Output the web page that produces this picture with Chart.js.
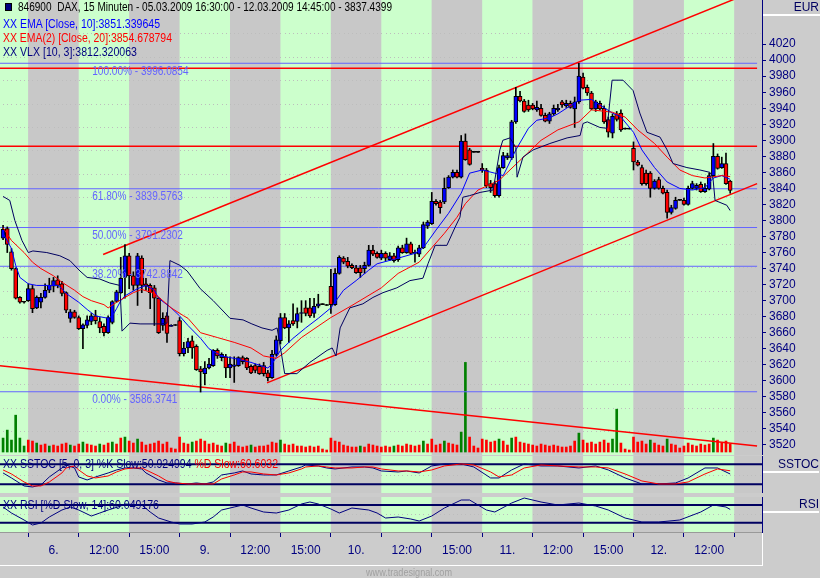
<!DOCTYPE html>
<html><head><meta charset="utf-8">
<script src="https://cdn.jsdelivr.net/npm/chart.js@4.4.0/dist/chart.umd.min.js"></script>
<style>
html,body{margin:0;padding:0;background:#cccccc;width:820px;height:578px;overflow:hidden;}
#wrap{position:relative;width:820px;height:578px;font-family:"Liberation Sans",Arial,sans-serif;}
canvas{position:absolute;left:0;}
.t{position:absolute;white-space:nowrap;font-size:12px;line-height:14px;transform-origin:0 0;}
.box{position:absolute;left:763px;width:56px;border-bottom:2px solid #fff;color:#000060;text-align:right;font-family:"Liberation Sans",Arial,sans-serif;font-size:12px;line-height:14px;}
</style></head><body>
<div id="wrap">
<canvas id="main" width="820" height="455" style="top:0"></canvas>
<canvas id="stoch" width="820" height="37" style="top:456px"></canvas>
<canvas id="rsi" width="820" height="69" style="top:497px"></canvas>
<div style="position:absolute;left:5px;top:3px;width:5px;height:6px;background:#000080;border:1px solid #000;"></div>
<div class="t" data-w="374" style="left:18px;top:0px;color:#000000">846900&nbsp; DAX, 15 Minuten - 05.03.2009 16:30:00 - 12.03.2009 14:45:00 - 3837.4399</div>
<div class="t" data-w="157" style="left:3px;top:17px;color:#0000ff">XX EMA [Close, 10]:3851.339645</div>
<div class="t" data-w="169" style="left:3px;top:31px;color:#ff0000">XX EMA(2) [Close, 20]:3854.678794</div>
<div class="t" data-w="134" style="left:3px;top:45px;color:#000080">XX VLX [10, 3]:3812.320063</div>
<div class="t" data-w="275" style="left:3px;top:457px;color:#000080">XX SSTOC [5, 0, 3] %K Slow:50.924994 <span style="color:#ff0000">%D Slow:60.6032</span></div>
<div class="t" data-w="156" style="left:3px;top:498px;color:#000080">XX RSI [%D Slow, 14]:60.049176</div>
<div class="box" style="top:0px;height:14px;padding-right:1px">EUR</div>
<div class="box" style="top:457px;height:14px;">SSTOC</div>
<div class="box" style="top:497px;height:14px;">RSI</div>
<div style="position:absolute;left:0;top:565px;width:763px;height:1px;background:#fff"></div>
<div style="position:absolute;left:762px;top:533px;width:1px;height:33px;background:#fff"></div>
<div class="t" data-w="86" style="left:366px;top:565px;color:#a0a0a0;font-size:11px;">www.tradesignal.com</div>
</div>
<script>
// ---------------- DATA ----------------
// bars are placed on 15-minute slots; slot 0 = 06.03.2009 09:00, 36 slots per trading day
const firstSlot = -6; // 05.03.2009 16:30
const open = [3778,3790,3761,3740,3704,3698,
 3700,3715,3691,3698,3704,3713,3718,3726,3721,3710,3678,3686,3679,3665,3669,3674,3681,3674,3668,3660,3673,3699,3710,3729,3756,3731,3719,3753,3721,3719,3716,3703,3669,3681,3668,3669,
 3675,3634,3641,3650,3643,3615,3609,3616,3619,3638,3629,3630,3616,3618,3619,3629,3628,3618,3619,3618,3619,3610,3604,3633,3650,3679,3666,3675,3674,3684,3691,3691,3684,3693,3695,3694,
 3718,3695,3734,3753,3749,3744,3741,3741,3740,3744,3763,3759,3753,3759,3751,3756,3751,3766,3760,3771,3759,3758,3766,3793,3796,3824,3823,3823,3841,3854,3860,3854,3899,3888,3885,3885,
 3865,3863,3846,3846,3831,3866,3878,3878,3923,3955,3949,3944,3944,3938,3940,3931,3924,3933,3938,3948,3943,3946,3939,3948,3979,3966,3959,3939,3946,3940,3926,3909,3933,3934,3914,3914,
 3890,3873,3866,3859,3859,3840,3851,3840,3835,3810,3815,3825,3825,3820,3840,3840,3845,3836,3839,3856,3880,3866,3871,3849];
const high = [3794,3792,3765,3741,3705,3699,
 3721,3719,3706,3709,3721,3728,3729,3731,3724,3711,3689,3688,3681,3671,3681,3684,3688,3679,3671,3681,3700,3713,3754,3770,3759,3736,3759,3756,3728,3721,3719,3704,3685,3685,3670,3669,
 3679,3648,3653,3656,3645,3618,3624,3628,3639,3640,3635,3633,3630,3630,3630,3631,3629,3620,3621,3621,3623,3613,3638,3656,3684,3684,3675,3696,3691,3700,3700,3703,3703,3708,3695,3694,
 3739,3740,3756,3755,3754,3746,3744,3744,3748,3769,3769,3761,3763,3761,3760,3759,3768,3769,3778,3773,3763,3769,3798,3800,3835,3826,3825,3853,3856,3863,3863,3906,3908,3890,3885,3885,
 3871,3865,3850,3849,3869,3885,3884,3925,3966,3961,3951,3950,3946,3949,3945,3934,3935,3944,3945,3950,3950,3949,3954,3996,3984,3969,3961,3950,3949,3943,3929,3933,3936,3938,3914,3914,
 3898,3875,3869,3863,3861,3851,3854,3843,3838,3819,3829,3825,3828,3843,3849,3846,3848,3846,3859,3896,3883,3879,3884,3850];
const low = [3776,3760,3738,3702,3697,3697,
 3699,3685,3690,3691,3703,3710,3711,3716,3706,3685,3673,3678,3664,3640,3666,3670,3671,3660,3656,3659,3671,3698,3709,3703,3715,3713,3694,3710,3713,3690,3669,3659,3663,3648,3668,3669,
 3631,3631,3635,3628,3613,3586,3595,3615,3618,3628,3625,3604,3604,3598,3618,3621,3614,3609,3610,3608,3606,3600,3603,3631,3646,3665,3648,3669,3666,3673,3681,3679,3679,3691,3695,3694,
 3684,3694,3733,3746,3741,3740,3734,3729,3734,3743,3756,3753,3751,3750,3750,3748,3749,3759,3759,3758,3748,3755,3765,3790,3795,3819,3809,3821,3840,3853,3853,3853,3875,3869,3885,3885,
 3860,3841,3835,3829,3829,3865,3876,3876,3921,3948,3935,3936,3938,3936,3930,3923,3921,3931,3936,3941,3941,3940,3916,3946,3964,3956,3938,3936,3938,3921,3904,3903,3924,3911,3914,3914,
 3863,3868,3844,3844,3829,3839,3839,3833,3803,3808,3814,3825,3819,3819,3839,3838,3835,3835,3838,3855,3864,3865,3845,3834];
const close = [3789,3770,3740,3703,3698,3698,
 3715,3690,3704,3704,3713,3719,3725,3719,3709,3688,3686,3679,3665,3670,3676,3681,3675,3666,3660,3679,3699,3711,3728,3756,3731,3719,3756,3719,3718,3710,3703,3660,3678,3659,3669,3669,
 3634,3641,3649,3641,3614,3611,3616,3621,3638,3631,3633,3616,3621,3620,3629,3624,3616,3610,3613,3609,3609,3604,3633,3651,3679,3666,3671,3671,3684,3685,3684,3681,3693,3696,3695,3694,
 3695,3734,3754,3748,3743,3741,3735,3735,3744,3763,3758,3754,3759,3753,3756,3750,3766,3760,3771,3759,3760,3766,3795,3798,3824,3821,3816,3840,3854,3860,3854,3899,3876,3870,3885,3885,
 3863,3843,3841,3831,3866,3881,3881,3923,3955,3949,3936,3938,3939,3941,3931,3924,3933,3940,3940,3944,3946,3941,3948,3980,3965,3959,3939,3948,3939,3923,3910,3930,3926,3913,3914,3914,
 3873,3869,3846,3846,3840,3849,3840,3834,3810,3816,3825,3825,3820,3840,3846,3844,3836,3840,3856,3880,3865,3871,3846,3837.4399];
const volume = [140,220,120,370,140,60,
 120,110,90,70,80,60,70,60,80,90,70,60,80,100,80,70,60,80,70,90,100,80,140,150,110,90,130,100,70,80,90,110,80,100,40,30,
 150,90,80,100,110,130,110,80,90,70,60,90,80,100,60,50,60,70,50,60,60,70,100,90,120,80,70,80,60,60,50,60,50,60,30,20,
 140,110,100,70,60,50,50,60,50,80,70,60,50,60,50,60,70,60,80,70,60,70,110,80,130,70,80,110,90,80,70,200,900,150,60,40,
 130,120,100,110,130,110,70,140,150,100,90,80,70,60,80,70,60,70,60,50,50,60,110,190,120,90,100,80,100,120,90,130,430,90,30,20,
 150,100,110,80,120,90,70,60,130,80,70,40,60,90,70,60,80,70,80,140,120,90,110,80];
const volUp = [1,1,1,1,1,1,
 0,0,1,0,0,1,0,0,0,0,1,0,0,1,0,0,0,1,0,0,1,0,0,1,0,0,1,0,0,0,0,0,0,0,0,0,
 0,0,0,1,0,0,0,0,0,0,0,1,0,0,0,0,0,1,0,0,0,0,0,0,1,0,0,0,0,0,0,0,0,0,0,0,
 0,0,0,0,0,0,0,1,0,0,0,0,0,0,0,1,0,0,0,0,0,0,1,0,0,0,0,1,0,0,0,1,1,0,0,0,
 0,0,0,0,1,0,0,1,0,0,0,0,0,0,0,0,0,0,0,0,0,0,0,1,0,0,0,0,0,0,0,1,1,0,0,0,
 0,0,0,0,1,0,0,0,1,0,0,0,0,0,0,0,0,0,0,1,0,0,0,0];
// indicator samples: [slot, value]
const ema10 = [[-6,3784],[-4,3765],[-3,3744],[-2,3729],[0,3721],[2,3719],[4,3719],[7,3719],[8,3715],[9,3709],[12,3698],[14,3689],[16,3681],[19,3678],[20,3681],[21,3690],[22,3700],[23,3706],[26,3715],[28,3719],[30,3713],[31,3703],[34,3691],[36,3681],[38,3669],[41,3653],[43,3640],[46,3631],[49,3628],[53,3623],[57,3616],[58,3621],[60,3638],[63,3653],[66,3666],[69,3678],[72,3691],[75,3713],[78,3725],[81,3738],[83,3746],[88,3753],[92,3759],[94,3766],[97,3788],[100,3809],[103,3834],[105,3859],[108,3863],[111,3859],[113,3856],[116,3888],[119,3915],[121,3925],[124,3928],[126,3933],[131,3950],[134,3951],[136,3944],[139,3934],[141,3929],[144,3910],[146,3888],[149,3866],[152,3848],[155,3840],[158,3838],[161,3841],[163,3853],[165,3856],[167,3851.34]];
const ema20 = [[-6,3791],[-4,3775],[-1,3760],[1,3748],[3,3740],[6,3731],[8,3723],[11,3713],[13,3705],[15,3700],[18,3695],[19,3691],[21,3698],[23,3704],[25,3710],[27,3714],[30,3709],[32,3700],[34,3691],[37,3681],[38,3678],[41,3660],[45,3654],[49,3648],[53,3641],[56,3631],[59,3628],[61,3635],[65,3654],[72,3679],[77,3694],[84,3716],[88,3734],[93,3748],[96,3766],[99,3784],[102,3804],[104,3821],[107,3838],[112,3850],[117,3875],[122,3900],[126,3913],[131,3923],[134,3938],[139,3935],[142,3929],[145,3913],[149,3896],[152,3879],[155,3863],[158,3856],[161,3853],[165,3856],[167,3854.68]];
const vlx = [[-6,3830],[-4.4,3825],[-3.2,3800],[-1.5,3775],[0,3760],[1.1,3762],[4.4,3760],[7.5,3756],[9.9,3750],[12.3,3737],[14,3729],[17,3727],[19.4,3722],[21.8,3719],[22.3,3662],[24.2,3672],[26.6,3671],[31.3,3671],[33,3672],[33.7,3750],[36.1,3744],[37.8,3737],[40.9,3715],[44,3700],[48,3678],[51.1,3676],[53.2,3671],[55.6,3666],[58,3663],[59.2,3666],[60.1,3638],[61,3609],[63.9,3609],[67,3623],[71.1,3638],[72.3,3641],[73.2,3631],[74.2,3666],[76.5,3691],[79.6,3696],[82,3704],[84.4,3710],[87.7,3716],[90.8,3725],[93.9,3728],[95.1,3746],[96.8,3769],[99.6,3769],[101.5,3791],[102.7,3804],[103.4,3829],[105,3831],[107.5,3835],[110.6,3838],[112.2,3888],[112.9,3900],[114.6,3903],[116,3891],[116.3,3854],[117.7,3879],[120.1,3888],[124.1,3896],[128.2,3903],[131.3,3906],[132,3921],[133,3923],[136,3916],[137.7,3915],[138.9,3975],[141.5,3975],[143.9,3962],[145.5,3934],[147.2,3910],[150.3,3904],[152,3888],[153.4,3871],[156.7,3866],[159.8,3863],[162.2,3860],[162.9,3853],[163.4,3825],[166.2,3819],[167,3812.32]];
const stochK = [[-6,54],[-4,39],[-1,15],[1,12],[3,18],[5,42],[8,69],[9,78],[11,69],[12,42],[14,33],[16,42],[19,54],[21,63],[23,69],[25,69],[27,66],[28,54],[31,33],[33,24],[35,24],[38,21],[40,24],[42,21],[44,27],[46,48],[49,54],[51,60],[53,51],[56,48],[59,48],[62,60],[65,72],[66,78],[69,75],[71,69],[73,66],[77,72],[80,72],[82,69],[84,60],[88,57],[90,60],[93,54],[96,75],[99,81],[103,81],[106,72],[110,39],[112,39],[115,63],[118,81],[122,75],[126,75],[131,69],[135,75],[138,63],[142,39],[146,21],[150,21],[154,24],[157,39],[161,69],[164,69],[167,50.92]];
const stochD = [[-6,63],[-4,51],[-1,27],[1,15],[3,15],[5,27],[8,54],[9,69],[11,75],[12,63],[14,45],[16,39],[19,45],[21,57],[23,66],[25,69],[27,69],[28,63],[31,45],[33,30],[35,24],[38,21],[40,21],[42,21],[44,21],[46,36],[49,48],[51,57],[53,57],[56,51],[59,48],[62,54],[65,66],[66,72],[69,75],[71,72],[73,69],[77,69],[80,72],[82,72],[84,66],[88,60],[90,60],[93,57],[96,63],[99,75],[103,81],[106,78],[110,57],[112,42],[115,48],[118,69],[122,78],[126,75],[131,72],[135,72],[138,69],[142,51],[146,30],[150,21],[154,21],[157,27],[161,51],[164,66],[167,60.60]];
const rsi = [[-6,65.5],[-4,51.9],[-1,36.1],[1,24.8],[3,29.3],[5,42.9],[8,58.7],[10,65.5],[12,58.7],[15,45.1],[17,51.9],[19,58.7],[22,67.7],[23,72.3],[27,70],[29,54.2],[31,40.6],[34,31.6],[36,27.1],[39,27.1],[42,31.6],[44,42.9],[46,58.7],[49,65.5],[51,70],[53,63.2],[56,54.2],[59,51.9],[62,58.7],[65,72.3],[67,76.8],[69,72.3],[72,61],[74,51.9],[77,63.2],[81,58.7],[83,51.9],[85,40.6],[88,42.9],[91,38.4],[93,33.8],[96,45.1],[99,63.2],[103,81.3],[105,81.3],[109,58.7],[111,54.2],[115,74.5],[118,85.8],[122,76.8],[126,70],[131,74.5],[135,67.7],[138,58.7],[142,40.6],[146,31.6],[150,31.6],[155,36.1],[160,54.2],[163,70],[166,65.5],[167,60.05]];
const stochLevels = [20, 80];
const rsiLevels = [30, 70];
// drawn objects
const fibPct = ['100.00%','61.80%','50.00%','38.20%','0.00%'];
const fibLevels = [3996.0854, 3839.5763, 3791.2302, 3742.8842, 3586.3741];
const trendLines = [
  [[17.8,3757.5],[173.4,4087.5]],   // upper channel
  [[56.8,3597.5],[173.4,3846]],     // lower channel
  [[-6.73,3618.75],[173.4,3518.75]],// falling line
  [[-6.73,3990],[173.4,3990]],      // horizontal resistance
  [[-6.73,3892.5],[173.4,3892.5]]   // horizontal line
];
const fibSpan = [-6.73, 173.4];
const fibLabelSlot = 15.2;
const priceTicks = [];
for (let v = 3520; v <= 4020; v += 20) priceTicks.push(v);
const gridPrices = [];
for (let v = 4033.3; v > 3510; v -= 29.1667) gridPrices.push(v);
const sessionLabels = ['6.','12:00','15:00','9.','12:00','15:00','10.','12:00','15:00','11.','12:00','15:00','12.','12:00'];
const slotsPerSession = 12;
// ---------------- LAYOUT ----------------
const X_MIN = -6.73, X_MAX = 174.57;
const AXIS_W = 58;
const NAVY = '#000080';
const BAND_GREEN = '#ccffcc', BAND_GRAY = '#c8c8c8';

document.querySelectorAll('[data-w]').forEach(el => {
  const w = el.getBoundingClientRect().width;
  el.style.transform = 'scaleX(' + (parseFloat(el.dataset.w) / w) + ')';
});

function makeBands(gridValues) {
  return {
    id: 'bands',
    beforeDraw(chart) {
      const {ctx, chartArea: a, scales: {x, y}} = chart;
      ctx.save();
      ctx.beginPath(); ctx.rect(a.left, a.top, a.right - a.left, a.bottom - a.top); ctx.clip();
      for (let k = -1; k <= 15; k++) {
        const x0 = x.getPixelForValue(k * slotsPerSession), x1 = x.getPixelForValue((k + 1) * slotsPerSession);
        ctx.fillStyle = (Math.abs(k) % 2 === 1) ? BAND_GREEN : BAND_GRAY;
        ctx.fillRect(x0, a.top, x1 - x0, a.bottom - a.top);
      }
      // dotted grid
      ctx.fillStyle = '#bdbdbd';
      gridValues.forEach(v => {
        const py = Math.round(y.getPixelForValue(v));
        for (let s = -6; s <= 174; s++) ctx.fillRect(Math.round(x.getPixelForValue(s)), py, 1, 1);
      });
      ctx.restore();
    }
  };
}

function baseOpts(yOpts) {
  return {
    responsive: false, animation: false, devicePixelRatio: 1,
    layout: {padding: 0},
    plugins: {legend: {display: false}, tooltip: {enabled: false}},
    elements: {point: {radius: 0}, line: {tension: 0}},
    scales: {
      x: {type: 'linear', min: X_MIN, max: X_MAX, display: false, offset: false},
      y: Object.assign({
        position: 'right',
        afterFit(s) { s.width = AXIS_W; s.paddingTop = 0; s.paddingBottom = 0; },
        grid: {drawOnChartArea: false, drawTicks: false},
        ticks: {display: false},
        border: {display: true, color: NAVY, dash: [1, 2]}
      }, yOpts)
    }
  };
}
const pts = arr => arr.map(p => ({x: p[0], y: p[1]}));
const lineDs = (data, color, w, yAxisID) => ({type: 'line', data, borderColor: color, borderWidth: w, pointRadius: 0, yAxisID: yAxisID || 'y', order: 1});

// ---------- main chart ----------
const slots = open.map((_, i) => firstSlot + i);
const mainDatasets = [];
fibLevels.forEach(v => mainDatasets.push(Object.assign(lineDs([{x: fibSpan[0], y: v}, {x: fibSpan[1], y: v}], '#6464ff', 1), {order: 6})));
trendLines.forEach(l => mainDatasets.push(Object.assign(lineDs(pts(l), '#ff0000', 1.5), {order: 5})));
mainDatasets.push({type: 'bar', yAxisID: 'yv', data: slots.map((s, i) => ({x: s, y: volume[i]})),
  backgroundColor: volUp.map(u => u ? '#008000' : '#ff0000'), barThickness: 2, grouped: false, order: 7});
mainDatasets.push({type: 'bar', data: slots.map((s, i) => ({x: s, y: [low[i], high[i]]})),
  backgroundColor: '#000000', barThickness: 1, grouped: false, minBarLength: 1, order: 4});
mainDatasets.push({type: 'bar', data: slots.map((s, i) => ({x: s, y: [open[i], close[i]]})),
  backgroundColor: slots.map((s, i) => close[i] > open[i] ? '#0000ff' : (close[i] < open[i] ? '#ff0000' : '#000000')),
  borderColor: '#000000', borderWidth: 1, borderSkipped: false, barThickness: 4, grouped: false, minBarLength: 1, order: 3});
mainDatasets.push(lineDs(pts(vlx), '#000060', 1));
mainDatasets.push(lineDs(pts(ema20), '#ff0000', 1));
mainDatasets.push(lineDs(pts(ema10), '#0000ff', 1));

const fibLabelPlugin = {
  id: 'fibLabels',
  afterDatasetsDraw(chart) {
    const {ctx, scales: {x, y}} = chart;
    ctx.save();
    ctx.font = '12px "Liberation Sans", Arial';
    ctx.fillStyle = '#6464ff'; ctx.textBaseline = 'top';
    fibLevels.forEach((v, i) => {
      const txt = fibPct[i] + ' - ' + v.toFixed(4);
      const px = x.getPixelForValue(fibLabelSlot), py = y.getPixelForValue(v) + 2;
      ctx.save(); ctx.translate(px, py); ctx.scale(0.84, 1); ctx.fillText(txt, 0, 0); ctx.restore();
    });
    ctx.restore();
  }
};

const mainOpts = baseOpts({
  min: 3507.5, max: 4075,
  afterBuildTicks(s) { s.ticks = priceTicks.map(v => ({value: v})); },
  ticks: {display: true, color: NAVY, padding: 3, font: {size: 12, family: '"Liberation Sans", Arial'}, callback: v => String(v)},
  grid: {drawOnChartArea: false, drawTicks: true, tickLength: 4, tickColor: NAVY}
});
mainOpts.scales.yv = {display: false, min: -30, max: 4540};
new Chart(document.getElementById('main'), {type: 'bar', data: {datasets: mainDatasets}, options: mainOpts, plugins: [makeBands(gridPrices), fibLabelPlugin]});

// ---------- stochastic ----------
const stochDs = [];
stochLevels.forEach(v => stochDs.push(Object.assign(lineDs([{x: X_MIN, y: v}, {x: X_MAX, y: v}], '#000060', 2), {order: 3})));
stochDs.push(lineDs(pts(stochD), '#ff0000', 1));
stochDs.push(lineDs(pts(stochK), '#000080', 1));
new Chart(document.getElementById('stoch'), {type: 'line', data: {datasets: stochDs}, options: baseOpts({min: -6.1, max: 104.9}), plugins: [makeBands([47])]});

// ---------- RSI + time axis ----------
const rsiDs = [];
rsiLevels.forEach(v => rsiDs.push(Object.assign(lineDs([{x: X_MIN, y: v}, {x: X_MAX, y: v}], '#000060', 2), {order: 3})));
rsiDs.push(lineDs(pts(rsi), '#000080', 1));
const rsiOpts = baseOpts({min: 9, max: 88.1});
rsiOpts.scales.x = {
  type: 'linear', min: X_MIN, max: X_MAX, display: true, offset: false,
  afterBuildTicks(s) { const t = []; for (let v = 0; v <= 168; v += slotsPerSession / 2) t.push({value: v}); s.ticks = t; },
  afterFit(s) { s.height = 34; s.paddingLeft = 0; s.paddingRight = 0; },
  ticks: {autoSkip: false, maxRotation: 0, color: NAVY, padding: 6, font: {size: 12, family: '"Liberation Sans", Arial'},
    callback(v) { const k = Math.round(v / slotsPerSession * 2); return (k % 2 === 1) ? (sessionLabels[(k - 1) / 2] || '') : ''; }},
  grid: {drawOnChartArea: false, drawTicks: true, tickLength: 5,
    tickColor: c => (c.tick && Math.round(c.tick.value) % slotsPerSession === 0) ? NAVY : 'rgba(0,0,0,0)'},
  border: {display: true, color: '#999999'}
};
new Chart(document.getElementById('rsi'), {type: 'line', data: {datasets: rsiDs}, options: rsiOpts, plugins: [makeBands([50])]});
</script>
</body></html>
